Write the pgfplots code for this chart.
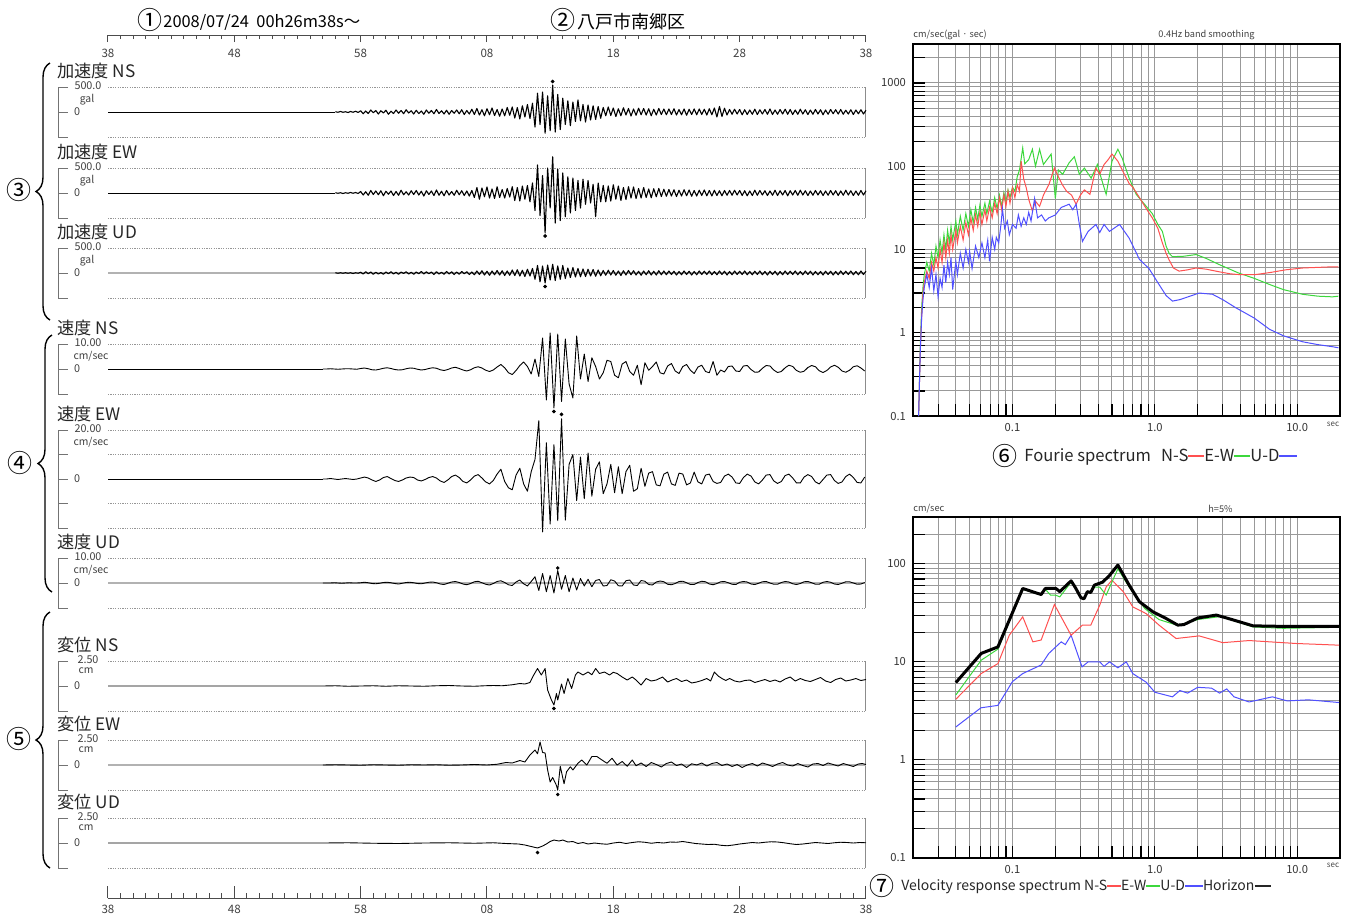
\documentclass[border=0pt]{standalone}
\usepackage{fontspec}
\setmainfont{Noto Sans CJK JP}
\usepackage{pgfplots}
\pgfplotsset{compat=1.18}
\usetikzlibrary{decorations.pathreplacing}
\newcommand\fs[1]{\fontsize{#1pt}{#1pt}\selectfont}
\definecolor{cR}{RGB}{255,80,80}
\definecolor{cG}{RGB}{60,215,60}
\definecolor{cB}{RGB}{80,80,255}
\definecolor{dotc}{RGB}{150,150,150}
\pgfplotsset{
 mywave/.style={scale only axis, width=379pt, xmin=0, xmax=60, ymin=-100, ymax=100, axis lines=none, clip=false, anchor=north west},
 wv/.style={black, line width=0.45pt, line join=round},
 wa/.style={black, line width=0.55pt, line join=round},
 dt/.style={only marks, mark=*, mark size=0.7pt, black},
 myspec/.style={scale only axis, anchor=north west, width=213.5pt, xmin=0.02, xmax=20, ymin=0.1,
   grid=both, grid style={gray!80, line width=0.5pt}, xtick pos=bottom, ytick pos=left, tick align=inside,
   major tick length=6pt, minor tick length=6pt, tick style={black, line width=0.55pt},
   axis line style={black, line width=0.9pt}, ticklabel style={font=\fs{5.6}, text=black!80},
   xtick={0.1,1,10}, xticklabels={0.1,1.0,10.0},
   minor xtick={0.03,0.04,0.05,0.06,0.07,0.08,0.09,0.2,0.3,0.4,0.5,0.6,0.7,0.8,0.9,2,3,4,5,6,7,8,9}},
}
\newcommand\pframe[7]{%
  \draw[black!55, line width=0.5pt] (68,#1) -- (58,#1) -- (58,#3) -- (68,#3) (58,#2) -- (68,#2);
  \node[anchor=west, font=\fs{8.6}, text=black!85, inner sep=0pt] at (57,#1-16) {#4};
  \node[font=\fs{5.4}, text=black!75, inner sep=0pt] at (88,#1-1) {#5};
  \node[font=\fs{5.2}, text=black!75, inner sep=0pt, anchor=north] at (#7,#1+6.5) {#6};
  \node[font=\fs{5.4}, text=black!75, inner sep=0pt] at (77,#2) {0};
}
\newcommand\wdeco{%
  \draw[dotc, line width=0.4pt, dash pattern=on 0.6pt off 0.6pt] (axis cs:0,100) -- (axis cs:60,100) (axis cs:0,-100) -- (axis cs:60,-100);
  \draw[black!45, line width=0.5pt] (axis cs:60,100) -- (axis cs:60,-100);}
\newcommand\gzero{\draw[black!30, line width=1pt] (axis cs:0,0) -- (axis cs:60,0);}
\begin{document}
\begin{tikzpicture}
\begin{scope}[x=0.5pt, y=-0.5pt]
\useasboundingbox (0,0) rectangle (1351,922);
% headers
\node[font=\fs{12.5}, inner sep=0pt] at (150,20) {①};
\node[anchor=west, font=\fs{8.2}, inner sep=0pt] at (163,22) {2008/07/24~~00h26m38s～};
\node[font=\fs{12.5}, inner sep=0pt] at (563,20) {②};
\node[anchor=west, font=\fs{9}, inner sep=0pt] at (577,22) {八戸市南郷区};
% braces
\draw[decorate, decoration={brace, amplitude=7pt}, line width=0.7pt] (50,320) -- (50,63);
\draw[decorate, decoration={brace, amplitude=7pt}, line width=0.7pt] (52,592) -- (52,335);
\draw[decorate, decoration={brace, amplitude=7pt}, line width=0.7pt] (50,868) -- (50,612);
\node[font=\fs{12.5}, inner sep=0pt] at (19,190) {③};
\node[font=\fs{12.5}, inner sep=0pt] at (20,463) {④};
\node[font=\fs{12.5}, inner sep=0pt] at (19,739) {⑤};
% frames
\pframe{87}{112}{137}{加速度 NS}{500.0}{gal}{87}
\pframe{168}{193}{218}{加速度 EW}{500.0}{gal}{87}
\pframe{248}{273}{298}{加速度 UD}{500.0}{gal}{87}
\pframe{344}{369}{394}{速度 NS}{10.00}{cm/sec}{91}
\pframe{430}{479}{528}{速度 EW}{20.00}{cm/sec}{91}
\draw[black!55, line width=0.5pt] (58,454) -- (68,454) (58,503) -- (68,503);
\pframe{558}{583}{608}{速度 UD}{10.00}{cm/sec}{91}
\pframe{661}{686}{711}{変位 NS}{2.50}{cm}{86}
\pframe{740}{765}{790}{変位 EW}{2.50}{cm}{86}
\pframe{818}{843}{868}{変位 UD}{2.50}{cm}{86}
% spectrum texts
\node[anchor=west, font=\fs{4.6}, text=black!75, inner sep=0pt] at (913,35) {cm/sec(gal · sec)};
\node[anchor=west, font=\fs{4.6}, text=black!75, inner sep=0pt] at (1158,35) {0.4Hz band smoothing};
\node[font=\fs{4}, text=black!70, inner sep=0pt] at (1333,424) {sec};
\node[font=\fs{12.5}, inner sep=0pt] at (1005,456) {⑥};
\node[anchor=west, font=\fs{8.3}, text=black!85, inner sep=0pt] at (1024,457) {Fourie spectrum\hspace{5pt}N-S\textcolor{cR}{\rule[0.55ex]{8pt}{0.8pt}}E-W\textcolor{cG}{\rule[0.55ex]{8pt}{0.8pt}}U-D\textcolor{cB}{\rule[0.55ex]{9pt}{0.8pt}}};
\node[anchor=west, font=\fs{4.6}, text=black!75, inner sep=0pt] at (913,509) {cm/sec};
\node[anchor=west, font=\fs{4.6}, text=black!75, inner sep=0pt] at (1208,509) {h=5\%};
\node[font=\fs{4}, text=black!70, inner sep=0pt] at (1333,865) {sec};
\node[font=\fs{12.5}, inner sep=0pt] at (882,886) {⑦};
\node[anchor=west, font=\fs{7}, text=black!85, inner sep=0pt] at (901,887) {Velocity response spectrum N-S\textcolor{cR}{\rule[0.55ex]{7pt}{0.8pt}}E-W\textcolor{cG}{\rule[0.55ex]{7pt}{0.8pt}}U-D\textcolor{cB}{\rule[0.55ex]{9pt}{0.8pt}}Horizon\rule[0.5ex]{8pt}{1.3pt}};
\end{scope}
% time axes
\begin{axis}[at={(54pt,-17.5pt)}, anchor=south west, scale only axis, width=379pt, height=5pt, xmin=0, xmax=60, ymin=0, ymax=1,
  axis x line*=bottom, axis y line=none, xtick={0,10,...,60}, xticklabels={38,48,58,08,18,28,38}, minor xtick={0,1,...,60},
  tick align=outside, major tick length=3.5pt, minor tick length=2pt, tick style={black!70, line width=0.5pt},
  x axis line style={black!70, line width=0.5pt}, ticklabel style={font=\fs{5.8}, text=black!75}]
\addplot[draw=none] coordinates {(0,0)};
\end{axis}
\begin{axis}[at={(54pt,-449pt)}, anchor=south west, scale only axis, width=379pt, height=8pt, xmin=0, xmax=60, ymin=0, ymax=1,
  axis x line*=bottom, axis y line=none, xtick={0,10,...,60}, xticklabels={38,48,58,08,18,28,38}, minor xtick={0,1,...,60},
  tick align=inside, major tick length=6pt, minor tick length=2.5pt, tick style={black!70, line width=0.5pt},
  x axis line style={black!70, line width=0.5pt}, ticklabel style={font=\fs{5.8}, text=black!75}]
\addplot[draw=none] coordinates {(0,0)};
\end{axis}
% ---------- Acc NS
\begin{axis}[mywave, at={(54pt,-43.5pt)}, height=25pt]
\wdeco
\addplot[wv] coordinates {(0,0)(18,0)};
\addplot[wa] table[row sep=\\, header=false, y index=0, x expr=18+0.2*\coordindex] {
1\\-1\\2\\-1\\1\\-2\\2\\-1\\3\\-2\\
5\\-7\\4\\-6\\8\\-3\\6\\-8\\5\\-4\\7\\-9\\3\\-6\\8\\-5\\6\\-7\\9\\-4\\5\\-8\\7\\-6\\4\\-9\\8\\-5\\6\\-7\\10\\-6\\5\\-8\\7\\-9\\6\\-5\\8\\-7\\9\\-10\\6\\-8\\11\\
-10\\14\\-12\\9\\-15\\13\\-11\\16\\-14\\10\\-17\\12\\-15\\18\\-13\\
20\\-24\\18\\-28\\25\\-20\\30\\-26\\35\\
-60\\75\\-50\\80\\-85\\65\\-75\\108\\-80\\70\\-70\\55\\
-50\\45\\-55\\40\\-38\\48\\-35\\30\\-40\\28\\-32\\25\\-30\\22\\-25\\
18\\-15\\20\\-14\\16\\-18\\13\\-15\\17\\-12\\14\\-16\\12\\-13\\15\\-11\\14\\-12\\13\\-15\\11\\-12\\14\\-10\\12\\
-11\\12\\-10\\13\\-12\\10\\-11\\12\\-13\\11\\-10\\12\\-11\\12\\-10\\11\\-12\\13\\-11\\16\\-20\\22\\-18\\15\\-12\\
10\\-9\\11\\-8\\10\\-11\\9\\-10\\8\\-9\\11\\-10\\9\\-8\\10\\-9\\12\\-10\\8\\-9\\10\\-8\\11\\-9\\10\\-10\\8\\-9\\11\\-8\\
9\\-10\\8\\-9\\10\\-8\\9\\-11\\8\\-9\\10\\-7\\9\\-8\\10\\-9\\7\\-8\\9\\-10\\8\\-7\\9\\-8\\7\\
};
\addplot[dt] coordinates {(35.2,122)};
\end{axis}
% ---------- Acc EW
\begin{axis}[mywave, at={(54pt,-84pt)}, height=25pt]
\wdeco
\addplot[wv] coordinates {(0,0)(18,0)};
\addplot[wa] table[row sep=\\, header=false, y index=0, x expr=18+0.2*\coordindex] {
1\\-1\\1\\-2\\1\\-1\\2\\-1\\2\\-2\\
6\\-8\\5\\-9\\10\\-6\\8\\-7\\9\\-11\\7\\-5\\8\\-10\\6\\-9\\11\\-7\\5\\-8\\9\\-6\\10\\-8\\7\\-12\\9\\-6\\8\\-10\\12\\-9\\7\\-11\\10\\-8\\6\\-9\\11\\-7\\9\\-10\\8\\-12\\10\\
-18\\22\\-25\\20\\-15\\24\\-20\\16\\-22\\25\\-18\\14\\-20\\18\\-16\\
25\\-30\\22\\-32\\28\\-25\\30\\-35\\40\\
-70\\112\\-90\\70\\-160\\100\\-60\\145\\-120\\95\\-110\\80\\
-95\\65\\-80\\60\\-70\\50\\-60\\55\\-45\\50\\-40\\35\\-95\\40\\-35\\
30\\-35\\28\\-32\\33\\-25\\28\\-30\\22\\-26\\25\\-20\\24\\-22\\18\\-20\\22\\-18\\16\\-19\\17\\-15\\18\\-14\\15\\
-13\\14\\-12\\13\\-14\\11\\-12\\13\\-11\\12\\-13\\10\\-12\\11\\-10\\12\\-11\\10\\-12\\11\\-10\\9\\-11\\10\\-9\\
10\\-9\\11\\-8\\10\\-10\\9\\-11\\8\\-10\\11\\-9\\10\\-8\\9\\-10\\8\\-9\\11\\-10\\9\\-8\\10\\-11\\9\\-8\\10\\-9\\11\\-8\\
9\\-10\\8\\-9\\10\\-8\\9\\-10\\8\\-9\\10\\-8\\9\\-10\\8\\-9\\11\\-8\\9\\-10\\8\\-9\\10\\-8\\9\\
};
\addplot[dt] coordinates {(34.6,-172)};
\end{axis}
% ---------- Acc UD
\begin{axis}[mywave, at={(54pt,-124pt)}, height=25pt]
\wdeco
\gzero
\addplot[wa] table[row sep=\\, header=false, y index=0, x expr=18+0.2*\coordindex] {
1\\-1\\1\\-1\\1\\-1\\1\\-2\\1\\-1\\
3\\-4\\5\\-3\\4\\-5\\3\\-4\\2\\-5\\4\\-3\\5\\-4\\3\\-5\\4\\-2\\5\\-4\\3\\-5\\4\\-3\\6\\-4\\5\\-3\\4\\-6\\5\\-4\\3\\-5\\6\\-4\\5\\-6\\4\\-5\\6\\-3\\5\\-6\\4\\
-7\\8\\-6\\9\\-8\\7\\-9\\8\\-7\\10\\-8\\9\\-10\\8\\-9\\
12\\-10\\13\\-12\\11\\-14\\15\\-12\\18\\
-25\\30\\-35\\28\\-40\\32\\-28\\35\\-30\\28\\-25\\30\\
-22\\20\\-18\\22\\-16\\18\\-15\\16\\-14\\15\\-12\\14\\-13\\12\\-11\\
10\\-9\\11\\-8\\10\\-9\\8\\-10\\9\\-8\\10\\-7\\9\\-8\\7\\-9\\8\\-7\\9\\-8\\7\\-8\\9\\-7\\8\\
-7\\8\\-6\\7\\-8\\6\\-7\\8\\-6\\7\\-8\\6\\-7\\8\\-6\\7\\-6\\8\\-7\\6\\-7\\8\\-6\\7\\-8\\
6\\-7\\8\\-6\\7\\-6\\8\\-7\\6\\-7\\7\\-6\\8\\-7\\6\\-8\\7\\-6\\7\\-8\\6\\-7\\8\\-6\\7\\-6\\8\\-7\\6\\-7\\
8\\-6\\7\\-8\\6\\-7\\6\\-8\\7\\-6\\7\\-8\\6\\-7\\8\\-6\\7\\-6\\8\\-7\\6\\-7\\8\\-6\\7\\
};
\addplot[dt] coordinates {(34.6,-54)};
\end{axis}
% ---------- Vel NS
\begin{axis}[mywave, at={(54pt,-172pt)}, height=25pt]
\wdeco
\addplot[wv] coordinates {(0,0)(17,0)};
\addplot[wv] table[row sep=\\, header=false, y index=0, x expr=17+0.3*\coordindex] {
0\\0\\1\\0\\-1\\0\\1\\1\\0\\-1\\
2\\4\\1\\-3\\-4\\-1\\3\\5\\2\\-2\\-4\\-3\\1\\4\\3\\-1\\-4\\-2\\2\\5\\
3\\-3\\-6\\-2\\4\\7\\2\\-4\\-8\\-3\\5\\9\\4\\-5\\-10\\-4\\
8\\18\\5\\-15\\-22\\-6\\14\\28\\10\\-20\\
40\\-30\\124\\-124\\144\\-156\\140\\-130\\120\\-60\\-116\\132\\-40\\60\\-50\\
45\\10\\-40\\-15\\35\\30\\-25\\-35\\20\\30\\
-10\\-25\\15\\-63\\25\\-5\\10\\28\\-15\\-20\\12\\22\\-8\\-18\\10\\
18\\-5\\-18\\8\\15\\-10\\-15\\30\\-25\\-4\\-12\\10\\12\\-8\\-10\\
12\\14\\-2\\-13\\-12\\3\\14\\12\\-4\\-14\\-10\\5\\15\\10\\-6\\-13\\-9\\6\\14\\9\\
-7\\-14\\-6\\8\\15\\7\\-8\\-13\\-5\\9\\13\\4\\-8\\
};
\addplot[dt] coordinates {(35.3,-170)};
\end{axis}
% ---------- Vel EW
\begin{axis}[mywave, at={(54pt,-215pt)}, height=49pt]
\wdeco
\draw[dotc, line width=0.4pt, dash pattern=on 0.6pt off 0.6pt] (axis cs:0,50) -- (axis cs:60,50) (axis cs:0,-50) -- (axis cs:60,-50);
\addplot[wv] coordinates {(0,0)(17,0)};
\addplot[wv] table[row sep=\\, header=false, y index=0, x expr=17+0.3*\coordindex] {
0\\0\\1\\0\\-1\\0\\1\\0\\-1\\0\\
2\\4\\2\\-2\\-5\\-2\\3\\5\\1\\-3\\-5\\-2\\2\\4\\3\\-2\\-4\\-1\\3\\5\\
2\\-4\\-7\\-2\\5\\8\\3\\-5\\-8\\-2\\6\\9\\2\\-6\\-10\\-3\\
10\\20\\-5\\-18\\-22\\8\\22\\-10\\-25\\15\\
40\\119\\-108\\74\\-92\\70\\-85\\123\\-84\\30\\50\\-44\\45\\-40\\53\\
-35\\20\\35\\-30\\-10\\30\\-28\\25\\-30\\15\\28\\-25\\-20\\22\\-15\\
12\\15\\-12\\-14\\10\\14\\-10\\-13\\12\\10\\-12\\-8\\14\\-6\\-10\\
8\\10\\-5\\-9\\-7\\6\\10\\4\\-8\\-9\\3\\10\\6\\-6\\-10\\-2\\8\\9\\-4\\-9\\
-5\\7\\10\\2\\-8\\-8\\4\\9\\5\\-6\\-10\\-1\\8\\9\\-3\\-9\\-6\\5\\10\\3\\
-7\\-8\\4\\
};
\addplot[dt] coordinates {(35.9,132)};
\end{axis}
% ---------- Vel UD
\begin{axis}[mywave, at={(54pt,-279pt)}, height=25pt]
\wdeco
\gzero
\addplot[wv] table[row sep=\\, header=false, y index=0, x expr=17+0.3*\coordindex] {
0\\0\\0\\1\\0\\-1\\0\\1\\0\\0\\
1\\3\\1\\-2\\-3\\-1\\2\\3\\1\\-2\\-4\\-1\\2\\3\\1\\-2\\-3\\0\\3\\4\\
1\\-4\\-6\\-1\\4\\6\\2\\-4\\-7\\-2\\5\\7\\1\\-5\\-8\\-2\\6\\9\\2\\-7\\
-10\\4\\12\\-3\\-12\\6\\
25\\-30\\38\\-35\\30\\-40\\50\\-25\\30\\-35\\20\\-28\\
18\\-12\\15\\-15\\10\\14\\-12\\-10\\13\\8\\-11\\-12\\9\\12\\-8\\-10\\10\\7\\
-6\\-8\\4\\8\\5\\-5\\-7\\-2\\6\\7\\1\\-6\\-6\\2\\7\\5\\-4\\-7\\-2\\5\\
6\\1\\-5\\-6\\3\\6\\4\\-4\\-6\\-1\\5\\6\\0\\-5\\-5\\2\\6\\4\\-3\\-6\\
-2\\5\\6\\1\\-5\\-5\\3\\6\\3\\-4\\-6\\-1\\5\\5\\0\\-5\\-4\\2\\
};
\addplot[dt] coordinates {(35.6,60)};
\end{axis}
% ---------- Disp NS
\begin{axis}[mywave, at={(54pt,-330.5pt)}, height=25pt]
\wdeco
\addplot[wv] coordinates {(0,0)(17,0)(18,1)(19,-1)(20,0)(21,1)(22,-1)(23,1)(24,0)(25,-1)(26,1)(27,2)(28,0)(29,-1)(29.8,1)(30.5,2)(31.2,1)(32,5)(32.6,10)(33.0,8)(33.4,14)(33.7,44)(34.0,70)(34.3,44)(34.6,70)(34.8,-16)(35.1,-56)(35.3,-76)(35.5,-30)(35.6,-56)(35.9,8)(36.1,-30)(36.4,30)(36.7,-10)(37.0,44)(37.2,56)(37.6,44)(38.0,56)(38.3,45)(38.6,70)(38.9,50)(39.3,56)(39.7,44)(40.0,55)(40.3,50)(40.7,36)(41.1,24)(41.5,36)(41.8,24)(42.2,4)(42.6,30)(43.0,20)(43.4,24)(43.9,36)(44.3,16)(44.7,25)(45.0,30)(45.4,18)(45.8,24)(46.2,12)(46.6,16)(47.0,22)(47.4,30)(47.7,20)(48.0,56)(48.3,40)(48.6,30)(48.9,22)(49.2,30)(49.6,20)(50.0,16)(50.4,22)(50.8,24)(51.2,14)(51.6,20)(52.0,26)(52.4,18)(52.8,24)(53.2,16)(53.6,28)(54.0,36)(54.4,20)(54.8,30)(55.2,22)(55.6,18)(56.0,26)(56.4,34)(56.8,20)(57.2,14)(57.6,26)(58.0,32)(58.4,20)(58.8,24)(59.2,30)(59.6,22)(60,26)};
\addplot[dt] coordinates {(35.3,-90)};
\end{axis}
% ---------- Disp EW
\begin{axis}[mywave, at={(54pt,-370pt)}, height=25pt]
\wdeco
\gzero
\addplot[wv] coordinates {(17,0)(18,1)(19,0)(20,-1)(21,1)(22,0)(23,-1)(24,1)(25,0)(26,1)(27,-1)(28,0)(29,2)(30,0)(30.8,3)(31.5,10)(32.0,8)(32.6,18)(33.0,12)(33.4,40)(33.8,60)(34.0,45)(34.2,92)(34.4,50)(34.6,48)(34.8,-20)(35.0,-68)(35.2,-50)(35.5,-82)(35.6,-100)(35.8,-5)(36.1,-75)(36.3,-27)(36.6,-7)(36.8,-20)(37.2,7)(37.5,20)(37.9,0)(38.3,34)(38.7,34)(39.1,20)(39.5,7)(39.9,27)(40.3,0)(40.7,14)(41.1,-5)(41.5,20)(41.8,-3)(42.2,8)(42.6,-6)(43.0,10)(43.4,2)(43.8,-8)(44.2,6)(44.6,12)(45.0,-2)(45.4,4)(45.8,-10)(46.2,5)(46.6,0)(47.0,8)(47.4,-4)(47.8,6)(48.2,10)(48.6,-2)(49.0,4)(49.4,-6)(49.8,2)(50.2,-10)(50.6,0)(51.0,6)(51.4,-4)(51.8,8)(52.2,2)(52.6,-6)(53.0,4)(53.4,10)(53.8,0)(54.2,-4)(54.6,6)(55.0,-2)(55.4,-8)(55.8,4)(56.2,6)(56.6,-2)(57.0,8)(57.4,2)(57.8,-4)(58.2,6)(58.6,0)(59.0,-6)(59.4,4)(59.7,6)(60,2)};
\addplot[dt] coordinates {(35.6,-118)};
\end{axis}
% ---------- Disp UD
\begin{axis}[mywave, at={(54pt,-409pt)}, height=25pt]
\wdeco
\addplot[wv] coordinates {(0,0)(17,0)(19,1)(21,-1)(23,-2)(25,0)(27,1)(29,-1)(30.5,1)(31.5,-2)(32.5,-4)(33.0,-8)(33.5,-14)(34.0,-20)(34.4,-12)(34.7,-4)(35.0,6)(35.3,12)(35.7,8)(36.0,12)(36.4,4)(36.8,6)(37.2,-2)(37.6,2)(38.0,-4)(38.5,0)(39.0,-3)(39.5,-5)(40.0,0)(40.5,3)(41.0,-2)(41.5,2)(42.0,5)(42.5,3)(43.0,-1)(43.5,2)(44.0,0)(44.5,4)(45.0,3)(45.5,6)(46.0,2)(46.5,-2)(47.0,-4)(47.5,-6)(48.0,-5)(48.5,-9)(49.0,-11)(49.5,-8)(50.0,-4)(50.5,-1)(51.0,2)(51.5,0)(52.0,3)(52.5,5)(53.0,4)(53.5,1)(54.0,-3)(54.5,-6)(55.0,-4)(55.5,-1)(56.0,2)(56.5,0)(57.0,-2)(57.5,1)(58.0,3)(58.5,2)(59.0,0)(59.5,2)(60,1)};
\addplot[dt] coordinates {(34.0,-38)};
\end{axis}
% ---------- Fourier spectrum
\begin{loglogaxis}[myspec, at={(456.5pt,-22pt)}, height=186pt, ymax=2940,
  ytick={0.1,1,10,100,1000}, yticklabels={0.1,1,10,100,1000},
  minor ytick={0.2,0.3,0.4,0.5,0.6,0.7,0.8,0.9,2,3,4,5,6,7,8,9,20,30,40,50,60,70,80,90,200,300,400,500,600,700,800,900,2000}]
\addplot[cG, line width=0.5pt] coordinates {(0.0219,0.1)(0.0225,0.7)(0.023,2)(0.0235,3.5)(0.024,5)(0.025,7)(0.026,5.5)(0.027,9)(0.028,6.5)(0.029,11)(0.030,8)(0.031,13)(0.032,9)(0.033,15)(0.034,10)(0.035,17)(0.036,12)(0.037,19)(0.038,13)(0.040,22)(0.041,15)(0.043,25)(0.045,17)(0.047,27)(0.049,19)(0.051,30)(0.053,21)(0.055,32)(0.057,23)(0.059,34)(0.061,25)(0.064,36)(0.066,27)(0.069,38)(0.072,28)(0.075,42)(0.078,31)(0.081,45)(0.084,33)(0.087,48)(0.09,37)(0.093,52)(0.096,42)(0.1,56)(0.104,50)(0.108,75)(0.112,90)(0.118,166)(0.122,107)(0.13,120)(0.138,160)(0.145,100)(0.155,160)(0.165,105)(0.187,140)(0.2,41)(0.21,90)(0.225,80)(0.25,110)(0.272,130)(0.295,80)(0.32,95)(0.357,72)(0.395,105)(0.42,72)(0.455,46)(0.5,115)(0.55,160)(0.59,125)(0.66,72)(0.74,46)(0.87,33)(0.96,27)(1.05,20)(1.13,16.5)(1.2,11)(1.26,9)(1.33,8.2)(1.6,8.3)(1.95,8.7)(2.3,7.8)(2.83,6.6)(3.9,5.2)(5,4.5)(6.4,3.8)(8,3.3)(10.9,2.9)(14,2.75)(17.7,2.7)(19.5,2.75)};
\addplot[cR, line width=0.5pt] coordinates {(0.0219,0.1)(0.0225,0.6)(0.023,1.6)(0.0235,3)(0.024,4)(0.025,5.5)(0.026,4.5)(0.027,7)(0.028,5.5)(0.029,8)(0.030,6)(0.031,10)(0.032,7)(0.033,12)(0.034,8)(0.035,13)(0.036,9)(0.037,15)(0.038,10)(0.040,17)(0.041,12)(0.043,19)(0.045,13)(0.047,21)(0.049,15)(0.051,24)(0.053,17)(0.055,26)(0.057,19)(0.059,28)(0.061,20)(0.064,30)(0.066,22)(0.069,32)(0.072,24)(0.075,36)(0.078,27)(0.081,42)(0.084,30)(0.087,45)(0.09,33)(0.093,50)(0.096,36)(0.1,55)(0.104,42)(0.108,60)(0.112,50)(0.115,115)(0.12,70)(0.125,55)(0.13,40)(0.138,29)(0.145,38)(0.155,33)(0.165,45)(0.18,60)(0.197,95)(0.21,75)(0.224,60)(0.24,50)(0.26,45)(0.28,35)(0.3,45)(0.32,52)(0.35,46)(0.37,70)(0.386,95)(0.41,80)(0.44,105)(0.47,120)(0.5,140)(0.55,115)(0.6,85)(0.66,62)(0.7,56)(0.78,42)(0.87,31)(0.96,24)(1.05,18)(1.13,12)(1.2,9)(1.26,7.5)(1.35,6)(1.48,5.5)(1.7,5.7)(1.95,6)(2.3,5.8)(2.83,5.4)(3.4,5.1)(3.9,5.0)(5.1,5.0)(6.5,5.3)(8.3,5.7)(11,6.0)(14,6.1)(17.7,6.2)(19.5,6.2)};
\addplot[cB, line width=0.5pt] coordinates {(0.0219,0.1)(0.0225,0.6)(0.023,1.5)(0.0235,2.5)(0.024,3.5)(0.025,5)(0.026,3.5)(0.027,6)(0.028,3.2)(0.029,5)(0.030,2.7)(0.031,4.5)(0.032,3.5)(0.033,6.5)(0.034,4)(0.035,7)(0.036,5)(0.037,8)(0.038,3.3)(0.040,7.2)(0.041,5)(0.043,9)(0.045,6)(0.047,10)(0.049,7)(0.05,9.5)(0.052,5.9)(0.055,11)(0.058,8)(0.061,12)(0.064,8)(0.067,13)(0.069,7.2)(0.072,14)(0.075,10)(0.077,14)(0.08,12)(0.083,20)(0.085,31)(0.088,18)(0.092,22)(0.095,15)(0.1,20)(0.106,18)(0.11,26)(0.115,19)(0.12,24)(0.125,20)(0.13,28)(0.135,22)(0.143,41)(0.15,24)(0.16,26)(0.17,22)(0.18,24)(0.2,26)(0.22,32)(0.25,35)(0.265,30)(0.28,35)(0.295,20)(0.31,12.5)(0.34,16.5)(0.386,20)(0.41,16)(0.44,20)(0.48,16.5)(0.565,20)(0.66,13.7)(0.78,7.6)(0.91,5.9)(1.07,3.8)(1.2,2.8)(1.33,2.4)(1.5,2.5)(2.05,3.0)(2.54,2.9)(3.0,2.5)(3.7,2.0)(5,1.5)(6.4,1.1)(8,0.92)(10.9,0.78)(14,0.72)(17.7,0.68)(19.5,0.66)};
\end{loglogaxis}
% ---------- Velocity response spectrum
\begin{loglogaxis}[myspec, at={(456.5pt,-258.5pt)}, height=170.5pt, ymax=300,
  ytick={0.1,1,10,100}, yticklabels={0.1,1,10,100},
  minor ytick={0.2,0.3,0.4,0.5,0.6,0.7,0.8,0.9,2,3,4,5,6,7,8,9,20,30,40,50,60,70,80,90,200}]
\addplot[cB, line width=0.5pt] coordinates {(0.04,2.17)(0.06,3.4)(0.079,3.6)(0.1,6.3)(0.118,7.6)(0.159,9.3)(0.18,12.2)(0.22,16)(0.235,15)(0.258,18.7)(0.308,8.9)(0.34,10)(0.41,10)(0.44,9)(0.48,10)(0.55,8.7)(0.63,10)(0.7,7.6)(0.87,6.2)(1.0,4.9)(1.33,4.4)(1.5,5.1)(1.7,4.8)(2.0,5.5)(2.5,5.4)(2.85,4.8)(3.2,5.3)(3.6,4.4)(4.6,3.9)(6.7,4.4)(8.5,4.0)(12,4.1)(19.7,3.85)};
\addplot[cR, line width=0.5pt] coordinates {(0.04,4.16)(0.0603,7.6)(0.079,9.6)(0.095,18.7)(0.118,28.8)(0.139,16)(0.159,16.7)(0.197,38.5)(0.258,18.7)(0.31,23.7)(0.355,23.7)(0.41,37.8)(0.455,58)(0.5,68)(0.6,52)(0.7,36.4)(0.87,31)(1.07,23.7)(1.41,17.3)(2.05,18.4)(3.0,15.7)(4.6,16.5)(9.8,15.4)(19.7,14.8)};
\addplot[cG, line width=0.5pt] coordinates {(0.04,4.6)(0.0603,10.4)(0.079,13.5)(0.118,55)(0.159,48)(0.17,55)(0.185,48)(0.2,48)(0.215,46)(0.258,65)(0.275,58)(0.303,45)(0.318,44)(0.336,52)(0.355,51)(0.376,58)(0.41,58)(0.455,48)(0.55,89)(0.66,58)(0.85,35)(1.07,27)(1.45,23.5)(2.0,27)(2.9,29)(4.9,22.7)(8,22)(19.7,22.5)};
\addplot[black, line width=1.5pt, line join=round] coordinates {(0.04,6.15)(0.0603,12.2)(0.079,14.2)(0.118,56)(0.159,48.6)(0.17,56)(0.202,56)(0.215,52)(0.258,67)(0.275,58)(0.303,45)(0.318,44)(0.336,52)(0.355,51)(0.376,60.6)(0.43,65)(0.48,76)(0.55,97)(0.66,60.6)(0.78,41)(0.97,32.4)(1.2,27.7)(1.45,23.7)(1.6,24)(2.0,28)(2.7,30)(3.2,28)(4.9,23.3)(8,23)(19.7,23)};
\end{loglogaxis}
\end{tikzpicture}
\end{document}
